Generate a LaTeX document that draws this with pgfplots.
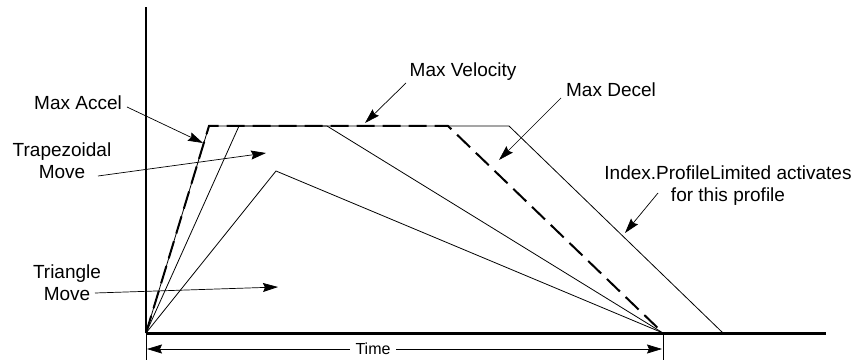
\documentclass[border=0pt]{standalone}
\usepackage{fontspec}
\setmainfont{Liberation Sans}
\usepackage{pgfplots}
\pgfplotsset{compat=1.18}
\usetikzlibrary{arrows.meta}

\tikzset{
    lbl/.style={font=\fontsize{19bp}{22bp}\selectfont, align=center, text=black},
    pt/.style={-{Stealth[length=15bp,width=9bp,inset=2bp]}, line width=0.7bp},
}

\begin{document}
\begin{tikzpicture}
\begin{axis}[
    scale only axis,
    width=680bp, height=326bp,
    xmin=0, xmax=680, ymin=0, ymax=326,
    axis lines=left,
    axis line style={-},
    x axis line style={line width=3bp},
    y axis line style={line width=2.5bp},
    xtick=\empty, ytick=\empty,
    clip=false,
]
% profiles
\addplot[black, line width=0.8bp] coordinates {(0,0) (63,207) (363,207) (577,0)};
\addplot[black, line width=0.8bp] coordinates {(0,0) (93,207) (181,207) (517,0)};
\addplot[black, line width=0.8bp] coordinates {(0,0) (130,162) (517,0)};
\addplot[black, line width=2bp, dash pattern=on 18bp off 8bp] coordinates {(0,0) (63,207) (302,207) (517,0)};

% labels
\node[lbl] at (axis cs:-68,230) {Max Accel};
\node[lbl] at (axis cs:-84,172) {Trapezoidal\\Move};
\node[lbl] at (axis cs:-79,50) {Triangle\\Move};
\node[lbl] at (axis cs:317,261) {Max Velocity};
\node[lbl] at (axis cs:465,243) {Max Decel};
\node[lbl] at (axis cs:582,147) {Index.ProfileLimited activates\\for this profile};

% pointers
\draw[pt] (axis cs:-19,226) -- (axis cs:57,190);
\draw[pt] (axis cs:-48,157) -- (axis cs:120,180);
\draw[pt] (axis cs:-51,40) -- (axis cs:132,46);
\draw[pt] (axis cs:260,250) -- (axis cs:219,210);
\draw[pt] (axis cs:415,235) -- (axis cs:353,173);
\draw[pt] (axis cs:512,140) -- (axis cs:479,100);

% time dimension
\draw[line width=0.7bp] (axis cs:0,0) -- (axis cs:0,-27);
\draw[line width=0.7bp] (axis cs:517,0) -- (axis cs:517,-27);
\draw[{Stealth[length=15bp,width=9bp,inset=2bp]}-{Stealth[length=15bp,width=9bp,inset=2bp]}, line width=0.7bp]
    (axis cs:1,-16) -- (axis cs:516,-16);
\node[fill=white, inner xsep=6bp, inner ysep=1bp, font=\fontsize{16bp}{18bp}\selectfont, text=black] at (axis cs:227,-16) {Time};

\coordinate (bl) at (axis cs:-146,-27);
\coordinate (tr) at (axis cs:712,333);
\end{axis}
\pgfresetboundingbox
\path[use as bounding box] (bl) rectangle (tr);
\end{tikzpicture}
\end{document}
